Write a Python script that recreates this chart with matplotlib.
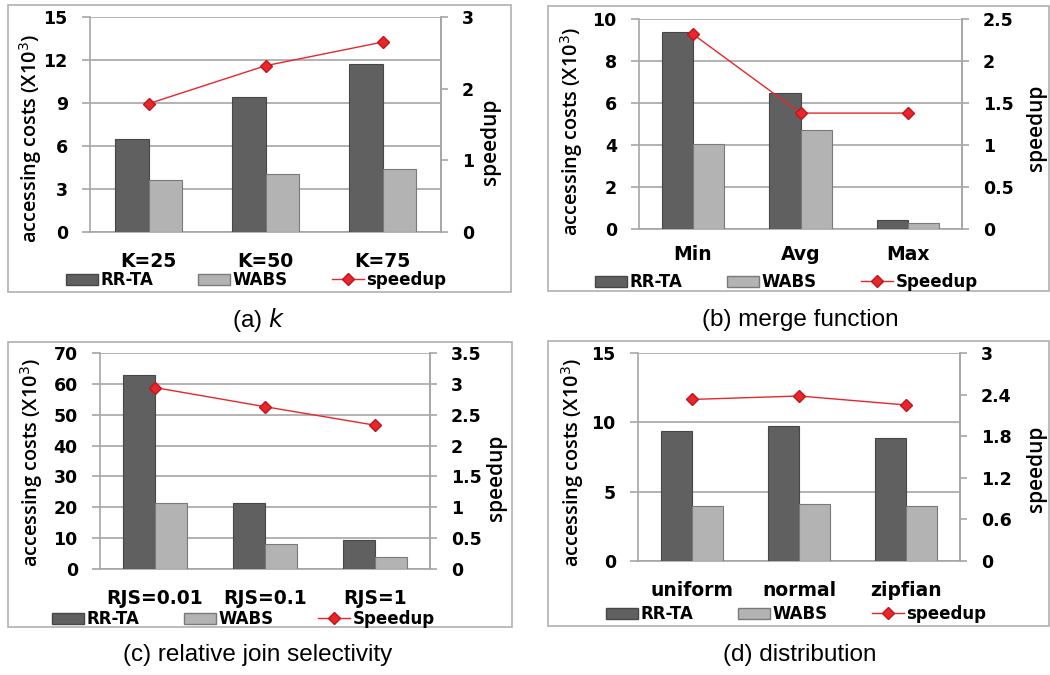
import matplotlib.pyplot as plt
import numpy as np
from matplotlib.patches import Rectangle, Patch
from matplotlib.lines import Line2D

# Données des quatre panneaux
cat_k = ["K=25", "K=50", "K=75"]
rrta_k = [6.5, 9.4, 11.7]
wabs_k = [3.6, 4.05, 4.4]
speed_k = [1.79, 2.32, 2.65]

cat_merge = ["Min", "Avg", "Max"]
rrta_merge = [9.4, 6.5, 0.45]
wabs_merge = [4.05, 4.7, 0.3]
speed_merge = [2.32, 1.38, 1.38]

cat_rjs = ["RJS=0.01", "RJS=0.1", "RJS=1"]
rrta_rjs = [63.0, 21.3, 9.3]
wabs_rjs = [21.5, 8.0, 3.8]
speed_rjs = [2.94, 2.63, 2.33]

cat_dist = ["uniform", "normal", "zipfian"]
rrta_dist = [9.4, 9.75, 8.9]
wabs_dist = [4.0, 4.1, 3.95]
speed_dist = [2.33, 2.38, 2.25]

W, H = 1050, 675
fig = plt.figure(figsize=(10.5, 6.75), dpi=100)

COL_RR = "#606060"
COL_WA = "#b3b3b3"
COL_SP = "#e8262b"
GRID = "#a6a6a6"
LBL_FONT = ["Open Sans", "DejaVu Sans"]


def fx(x):
    return x / W


def fy(y):
    return 1 - y / H


def panel(box, axbox, cats, rr, wa, sp, ylim, yticks, y2lim, y2ticks,
          speed_lbl, cat_y, leg_x, leg_y, caption, cap_xy, ylab_xy, y2lab_xy):
    # cadre extérieur
    bx0, by0, bx1, by1 = box
    fig.patches.append(Rectangle((fx(bx0), fy(by1)), fx(bx1 - bx0), (by1 - by0) / H,
                                 transform=fig.transFigure, fill=False,
                                 edgecolor="#b0b0b0", lw=1.2))
    l, t, r, b = axbox
    ax = fig.add_axes([fx(l), fy(b), fx(r - l), (b - t) / H])
    x = np.arange(len(cats))
    w = 0.29
    ax.bar(x - w / 2, rr, width=w, color=COL_RR, edgecolor="#474747", lw=0.8, zorder=3)
    ax.bar(x + w / 2, wa, width=w, color=COL_WA, edgecolor="#7a7a7a", lw=0.8, zorder=3)
    ax.set_xlim(-0.5, len(cats) - 0.5)
    ax.set_ylim(*ylim)
    ax.set_yticks(yticks)
    ax.set_yticklabels([f"{v:g}" for v in yticks], fontweight="bold", fontsize=12.5,
                       family="DejaVu Sans")
    ax.set_xticks([])
    ax.grid(axis="y", color=GRID, lw=1.2, zorder=0)
    ax.tick_params(axis="y", length=5.5, color=GRID, width=1.2, pad=10.5)
    ax.spines["top"].set_visible(False)
    for s in ["left", "right", "bottom"]:
        ax.spines[s].set_color(GRID)
        ax.spines[s].set_linewidth(1.2)

    ax2 = ax.twinx()
    ax2.plot(x, sp, color=COL_SP, lw=1.0, marker="D", ms=6,
             markerfacecolor=COL_SP, markeredgecolor="#c0151b", zorder=5)
    ax2.set_ylim(*y2lim)
    ax2.set_yticks(y2ticks)
    ax2.set_yticklabels([f"{v:g}" for v in y2ticks], fontweight="bold", fontsize=12.5,
                        family="DejaVu Sans")
    ax2.tick_params(axis="y", length=5, color=GRID, width=1.2, pad=10)
    for s in ["top", "left", "bottom"]:
        ax2.spines[s].set_visible(False)
    ax2.spines["right"].set_color(GRID)
    ax2.spines["right"].set_linewidth(1.2)

    # titres des axes, placés comme dans l'original
    fig.text(fx(ylab_xy[0]), fy(ylab_xy[1]), "accessing costs (X10$^3$)",
             family=LBL_FONT, fontsize=14.3, fontweight="semibold", rotation=90,
             ha="center", va="center")
    fig.text(fx(y2lab_xy[0]), fy(y2lab_xy[1]), "speedup", family=LBL_FONT,
             fontsize=15, fontweight="semibold", rotation=90, ha="center", va="center")

    # étiquettes de catégories sous l'axe
    for xi, c in zip(x, cats):
        xd = ax.transData.transform((xi, 0))[0]
        fig.text(xd / fig.bbox.width, fy(cat_y), c, fontsize=13.5,
                 fontweight="bold", ha="center", va="center", family="DejaVu Sans")

    handles = [Patch(facecolor=COL_RR, edgecolor="#474747"),
               Patch(facecolor=COL_WA, edgecolor="#7a7a7a"),
               Line2D([], [], color=COL_SP, lw=1.0, marker="D", ms=6,
                      markerfacecolor=COL_SP, markeredgecolor="#c0151b")]
    fig.legend(handles, ["RR-TA", "WABS", speed_lbl], ncol=3, loc="center left",
               bbox_to_anchor=(fx(leg_x), fy(leg_y)), frameon=False,
               prop={"family": "DejaVu Sans", "weight": "bold", "size": 12},
               handlelength=1.9, handleheight=0.65, handletextpad=0.15,
               columnspacing=2.7, borderpad=0, borderaxespad=0)
    fig.text(fx(cap_xy[0]), fy(cap_xy[1]), caption, fontsize=17.5, ha="center",
             va="center", family="Liberation Sans")
    return ax, ax2


panel((8, 5, 511, 292), (90, 17, 441, 232), cat_k, rrta_k, wabs_k, speed_k,
      (0, 15), [0, 3, 6, 9, 12, 15], (0, 3), [0, 1, 2, 3],
      "speedup", 261, 66, 280, "(a) $k$", (259, 320), (31, 138), (490, 142))
panel((548, 6, 1049, 291), (639, 19, 962, 229), cat_merge, rrta_merge, wabs_merge,
      speed_merge, (0, 10), [0, 2, 4, 6, 8, 10], (0, 2.5),
      [0, 0.5, 1, 1.5, 2, 2.5],
      "Speedup", 255, 595, 282, "(b) merge function", (800, 320), (572, 131),
      (1036, 128))
panel((8, 342, 512, 627), (100, 353, 430, 569), cat_rjs, rrta_rjs, wabs_rjs, speed_rjs,
      (0, 70), [0, 10, 20, 30, 40, 50, 60, 70], (0, 3.5),
      [0, 0.5, 1, 1.5, 2, 2.5, 3, 3.5],
      "Speedup", 598, 52, 619, "(c) relative join selectivity", (258, 655), (32, 462),
      (496, 478))
panel((548, 341, 1049, 626), (638, 353, 960, 561), cat_dist, rrta_dist, wabs_dist,
      speed_dist, (0, 15), [0, 5, 10, 15], (0, 3),
      [0, 0.6, 1.2, 1.8, 2.4, 3],
      "speedup", 590, 606, 614, "(d) distribution", (800, 655), (573, 462),
      (1036, 469))

fig.savefig("out.png", dpi=100)
